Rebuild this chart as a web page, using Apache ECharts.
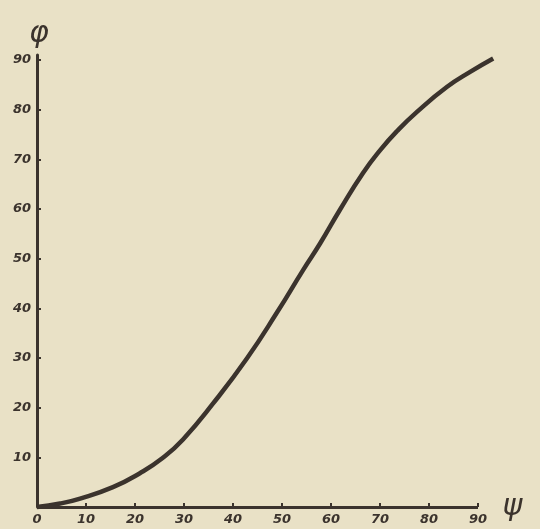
<!DOCTYPE html>
<html>
<head>
<meta charset="utf-8">
<script src="https://cdn.jsdelivr.net/npm/echarts@6/dist/echarts.min.js"></script>
<style>
html,body{margin:0;padding:0;background:#e9e1c6;}
#c{width:540px;height:529px;}
</style>
</head>
<body>
<div id="c"></div>
<script>
// psi (x) and phi (y) values
const psi = [0, 4.7, 8.8, 15.5, 21.0, 25.7, 29.8, 35.9, 42.9, 49.0, 54.3, 57.8, 61.8, 66.5, 70.0, 73.5, 77.6, 83.7, 88.4, 93.1];
const phi = [0, 0.7, 1.7, 4.0, 6.8, 9.9, 13.6, 20.8, 30.0, 39.2, 47.7, 53.1, 59.8, 67.2, 71.8, 75.7, 79.6, 84.6, 87.6, 90.3];
const xTicks = [0, 10, 20, 30, 40, 50, 60, 70, 80, 90];
const yTicks = [10, 20, 30, 40, 50, 60, 70, 80, 90];

const ink = '#3b332d';
const font = '"DejaVu Sans"';
const chart = echarts.init(document.getElementById('c'));
chart.setOption({
  backgroundColor: '#e9e1c6',
  animation: false,
  grid: {left: 37, right: 37.5, top: 55, bottom: 22},
  xAxis: {
    type: 'value', min: 0, max: 95, interval: 10,
    name: 'ψ', nameLocation: 'end', nameGap: 0,
    nameTextStyle: {color: ink, fontSize: 30, fontStyle: 'italic', fontFamily: font, verticalAlign: 'middle'},
    axisLine: {show: false},
    axisTick: {inside: true, length: 4, customValues: xTicks, lineStyle: {color: ink, width: 2}},
    axisLabel: {color: ink, fontSize: 13, fontStyle: 'italic', fontWeight: 'bold', fontFamily: font, margin: 6,
      customValues: xTicks},
    splitLine: {show: false}
  },
  yAxis: {
    type: 'value', min: 0, max: 91, interval: 10,
    name: 'φ', nameLocation: 'end', nameGap: 6,
    nameTextStyle: {color: ink, fontSize: 30, fontStyle: 'italic', fontFamily: font, align: 'left', padding: [0,0,0,-8]},
    axisLine: {lineStyle: {color: ink, width: 3}},
    axisTick: {inside: true, length: 4, customValues: yTicks, lineStyle: {color: ink, width: 2}},
    axisLabel: {color: ink, fontSize: 13, fontStyle: 'italic', fontWeight: 'bold', fontFamily: font, margin: 6,
      customValues: yTicks},
    splitLine: {show: false}
  },
  series: [{
    type: 'line',
    data: psi.map((x, i) => [x, phi[i]]),
    smooth: 0.5,
    showSymbol: false,
    clip: false,
    lineStyle: {color: ink, width: 4.5},
    markLine: {
      silent: true,
      symbol: ['none', 'none'],
      label: {show: false},
      lineStyle: {color: ink, width: 3, type: 'solid'},
      data: [[{coord: [0, 0]}, {coord: [90, 0]}]]
    }
  }]
});
</script>
</body>
</html>
